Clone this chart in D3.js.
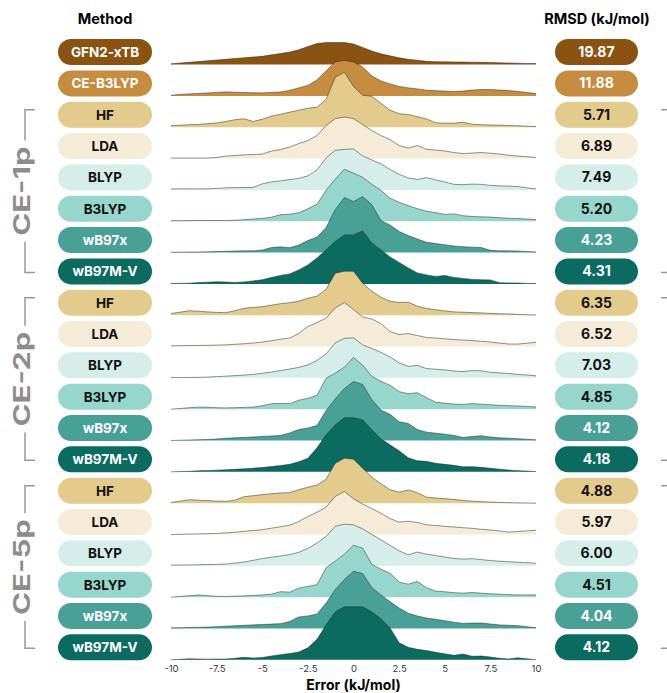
<!DOCTYPE html>
<html>
<head>
<meta charset="utf-8">
<script src="https://cdn.jsdelivr.net/npm/d3@7"></script>
<style>
  body { margin: 0; background: #fff; }
  text { font-family: Inter, "Noto Sans", sans-serif; }
</style>
</head>
<body>
<svg id="chart"></svg>
<script>
// error grid (kJ/mol) the densities are evaluated on
var errorGrid = d3.range(-10, 10.001, 0.5)

var methods = ["GFN2-xTB", "CE-B3LYP",
  "HF", "LDA", "BLYP", "B3LYP", "wB97x", "wB97M-V",
  "HF", "LDA", "BLYP", "B3LYP", "wB97x", "wB97M-V",
  "HF", "LDA", "BLYP", "B3LYP", "wB97x", "wB97M-V"]

var rmsd = [19.87, 11.88,
  5.71, 6.89, 7.49, 5.20, 4.23, 4.31,
  6.35, 6.52, 7.03, 4.85, 4.12, 4.18,
  4.88, 5.97, 6.00, 4.51, 4.04, 4.12]

var groupNames = ["CE-1p", "CE-2p", "CE-5p"]
var groupFirst = [2, 8, 14]
var groupLast = [7, 13, 19]

// error densities (arbitrary units), one array per row
var dGFN2 = [0.7,1.5,2.2,3,3.7,4.5,5.2,6,6.7,7.5,8.2,9.7,11,12.5,14.7,18,21,22,22,22,20.5,17,13.6,10.7,8.7,6.7,5.2,4.3,3.2,2.9,2.7,2.6,2.5,2.4,2.2,2,1.7,1.5,1.3,1.1,1]
var dCEB3LYP = [0.7,1.5,2,2.5,3,3.5,4,3.7,3.3,3.1,3,3.5,3.9,5.5,8,10.5,16,25,34,35.5,34,29,20,15,12,9.5,8,7,5.7,5.2,4.8,4.5,4.8,5.8,6.3,6.3,5.8,5.3,4.5,3.5,2.3]

var d1pHF = [1.7,2,2.5,2.8,3.5,4.3,5.7,7.5,8.5,5.7,8,11,13,15,17,19,20,28,50,55,40.7,32,31,24,17,13.5,12.7,10.5,8.3,4.5,4,4,5,3,2.5,2.2,2,1.7,1.5,1,0.7]
var d1pLDA = [0.5,0.5,0.5,0.5,0.5,1,2.5,3,3.7,4,4.5,7.5,9,11.5,15,18,23,33,40,41.5,40,34,28,23,19,13,10.5,13,9.3,8.5,7.6,6,5,5.5,6,5.3,4.5,3.3,2.5,1.8,1]
var d1pBLYP = [1,1,1,1,1,1.5,2,2.3,2.3,2.5,6,8,9,10.3,11.5,14,20,32,39.5,40.5,41,34,30,26,20.5,15.5,12,10.5,12.3,10,8,5.5,5.2,5.8,5.5,4.5,4,3.8,3.3,2,1]
var d1pB3LYP = [0.5,0.5,0.6,0.7,0.7,0.7,0.7,1,1.5,2.2,2.7,4,6.5,7,8.5,12.5,17,31,42,52,48,44,37,31,23,19,15.5,12.5,10,8.5,6.8,7.3,5.5,4.7,4.4,4.1,3.5,3,2.6,2.2,1.7]
var d1pWB97x = [0.3,0.3,0.5,0.5,0.7,1,1.2,1.5,1.7,1.7,2.5,5,5.7,4.8,7.5,12,15.5,25,43,55,51,56,48,32,27.5,21,17,13.5,10.3,9,7.8,6.6,5.8,5.4,5,2.2,1.7,1.7,1.5,1,0.5]
var d1pWB97MV = [0.3,0.5,0.7,1.3,1.7,2.2,1.8,1.5,2,3,4.2,6.5,8.5,10,14,19,26,34,42.5,49,49,53,41,34,27,21.5,16,11,9,7.5,8.5,6.5,5.5,4.5,4.1,4,1.2,1,0.8,0.5,0.3]

var d2pHF = [1.7,3,4.5,4,3.3,2.8,2.5,4.5,7,7.7,8.5,10,11.5,12.5,14,17,19,26,42,44,44,32,24,18,14,12.7,13,9,6.7,5.5,4.3,3.3,3,2.6,2.3,1.8,1.5,1.2,0.8,0.5,0.2]
var d2pLDA = [0.7,0.8,1,1.1,1.2,1.4,1.7,2.2,2.8,3.5,4.5,5.8,7.3,8.5,13,20,24,28.5,38.5,44,37,29.5,27.5,23,15,12,13,11,9,8.5,7.7,7,6.5,6,5.2,4.5,3.5,2.5,2.5,3.3,4.3]
var d2pBLYP = [0.3,0.3,0.4,0.5,0.8,1.2,1.7,2.2,2.8,3.5,4.5,5.8,7.3,8.8,10.5,13,17.5,24,35,39.5,40,33,29.5,25.5,21,15,11.5,12.5,9.3,8.6,8,6.8,6.3,7.3,7,5.6,5,4.4,3.5,2.8,2]
var d2pB3LYP = [0,0.7,1.5,2,2,1.5,1.3,1.5,1.8,2.1,3.5,5.5,5.8,5.5,9,10.8,14,31,36,42,51.7,44,33,28,24,17.5,15.5,16.5,11.5,7,6,5.1,4.8,5.6,5,4.4,3.9,3.5,3.2,2.8,2.3]
var d2pWB97x = [0,0.3,0.5,0.8,1,1.5,2.3,2.7,3.1,3.6,4,4.6,5.1,7.5,11,12.5,15,30,41.5,52,59,56,41,30.5,26.3,18.8,17,11,8.3,7.4,6.4,5.1,3,4,4.8,3.5,2.7,2.4,1.8,1.3,0.7]
var d2pWB97MV = [0,0.3,0.5,1,1.3,1.7,2,2.5,3,3.7,4.3,5.3,6.3,7.5,10,13.5,24,37,47,54,54,52,42,33,27,21,14,11,10.5,8.5,7.5,6.5,5,5.2,4.5,3.5,2.7,1.8,1.2,0.8,0.3]

var d5pHF = [0.7,2,3.5,3,2.5,2.1,1.8,3,6.5,7.5,8.5,9.5,10.2,10.5,13.5,16,18,24,40,45,44,35,26,19.5,13.5,11,13.3,10.5,6,5.2,4.5,3.7,2.8,2,1.5,1.1,0.8,0.5,0.3,0.2,0]
var d5pLDA = [0,0.2,0.4,0.6,0.8,1.1,1.6,2.3,3.2,4,4.8,6.3,7.8,9.3,13,18,22.3,27.5,38,43,35.7,30.5,26,21.3,16,12.3,13.3,12,9.7,9,8.2,7.5,6.8,6.2,5.2,4.5,3.6,2.4,3,3.6,4.3]
var d5pBLYP = [0.7,0.8,0.9,1.1,1.3,1.5,1.8,2.7,3.8,5.5,7.3,8.6,9.8,11.3,13.5,17.5,22.8,29.5,39.5,41.7,41,37,31.5,26,20.5,15,11,13.8,11.7,10.3,8.8,7.5,6.7,7.2,6.2,5.3,4.6,4.1,3.6,3.1,2.7]
var d5pB3LYP = [0,0.7,1.5,2.2,1.5,0.8,0.7,1,1.3,1.8,2.2,3,5.5,5,9,10.8,12.5,29.5,36,43,52,49,33,28,24,15,13,15.7,9.5,6,5.4,4.5,4,4.7,4,3.4,3,2.5,2.3,2.3,2.3]
var d5pWB97x = [0.7,0.8,1,1.2,1.4,1.8,2.3,2.8,3.2,3.6,4,4.4,4.8,7,11.5,12.6,14.5,25.5,39,49,57.3,55,41,33.5,27,20.5,15.3,12.5,10.5,9.2,7.8,6.3,5.1,5.4,5.5,4.5,3.6,3.2,2.8,1.8,0.7]
var d5pWB97MV = [0,0.5,1,0.8,0.7,0.8,0.8,1.5,2.5,1.8,2.3,3.8,5.2,6.3,7.8,12,20.5,35,48,53,53,53,48,41,32,17,12.5,10.5,9.3,7.5,6,4.5,5.8,3.5,3.8,2.8,1.5,0.9,2,1,0]

var densities = [dGFN2, dCEB3LYP,
  d1pHF, d1pLDA, d1pBLYP, d1pB3LYP, d1pWB97x, d1pWB97MV,
  d2pHF, d2pLDA, d2pBLYP, d2pB3LYP, d2pWB97x, d2pWB97MV,
  d5pHF, d5pLDA, d5pBLYP, d5pB3LYP, d5pWB97x, d5pWB97MV]

var methodOrder = ["GFN2-xTB", "CE-B3LYP", "HF", "LDA", "BLYP", "B3LYP", "wB97x", "wB97M-V"]
var darkLabels = ["GFN2-xTB", "CE-B3LYP", "wB97x", "wB97M-V"]

var dims = {
    width: 667,
    height: 693,
    plotLeft: 171,
    plotRight: 536,
    rowTop: 36.4,
    rowBottom: 663,
    pillH: 26
}

var color = d3.scaleOrdinal()
    .domain(methodOrder)
    .range(["#8b5311", "#c68d40", "#e3cb8d", "#f6ebd6", "#d6eeea", "#97d6cc", "#48a096", "#0b6b60"])

var svg = d3.select("#chart")
    .attr("width", dims.width)
    .attr("height", dims.height)

var xScale = d3.scaleLinear()
    .domain([-10, 10])
    .range([dims.plotLeft, dims.plotRight])

var rowScale = d3.scaleBand()
    .domain(d3.range(methods.length))
    .range([dims.rowTop, dims.rowBottom])

var yScale = d3.scaleLinear()
    .domain([0, 60])
    .range([0, 60])

var rowCenter = i => rowScale(i) + rowScale.bandwidth()/2
var baseline = i => rowCenter(i) + 12.5

var rows = methods.map((m, i) => ({method: m, rmsd: rmsd[i], dens: densities[i], i: i}))

//ridges, top row first so lower rows overlap
var ridges = svg.append("g")
rows.forEach(function(r){
    var b = baseline(r.i)
    var area = d3.area()
        .x((d, j) => xScale(errorGrid[j]))
        .y0(b)
        .y1(d => b - yScale(d))
    var line = d3.line()
        .x((d, j) => xScale(errorGrid[j]))
        .y(d => b - yScale(d))
    ridges.append("path")
        .attr("d", area(r.dens))
        .attr("fill", color(r.method))
    ridges.append("path")
        .attr("d", line(r.dens))
        .attr("fill", "none")
        .attr("stroke", "#2b2b2b")
        .attr("stroke-opacity", 0.65)
        .attr("stroke-width", 0.8)
})

//pills
function pills(xLeft, w, fontSize, textOf){
    var g = svg.append("g")
        .selectAll("g")
        .data(rows)
        .enter()
        .append("g")
        .attr("transform", d => `translate(${xLeft},${rowCenter(d.i)})`)
    g.append("rect")
        .attr("x", 0)
        .attr("y", -dims.pillH/2)
        .attr("width", w)
        .attr("height", dims.pillH)
        .attr("rx", dims.pillH/2)
        .attr("fill", d => color(d.method))
    g.append("text")
        .attr("x", w/2)
        .attr("y", 0)
        .attr("dy", "0.36em")
        .attr("text-anchor", "middle")
        .attr("font-size", fontSize)
        .attr("font-weight", 700)
        .attr("fill", d => darkLabels.includes(d.method) ? "#fff" : "#111")
        .text(textOf)
}
pills(58, 94, 13.5, d => d.method)
pills(555, 83, 14, d => d.rmsd.toFixed(2))

//headers
svg.append("text")
    .attr("x", 105).attr("y", 24)
    .attr("text-anchor", "middle")
    .attr("font-size", 14.5).attr("font-weight", 700)
    .text("Method")
svg.append("text")
    .attr("x", 597).attr("y", 24)
    .attr("text-anchor", "middle")
    .attr("font-size", 14.5).attr("font-weight", 700)
    .text("RMSD (kJ/mol)")

//group brackets
var bracketColor = "#999"
groupNames.forEach(function(name, k){
    var top = rowCenter(groupFirst[k]) - 5
    var bottom = rowCenter(groupLast[k]) + 1
    var mid = (top + bottom)/2
    var label = svg.append("text")
        .attr("transform", `translate(29.5,${mid}) rotate(-90) scale(1.35,1)`)
        .attr("text-anchor", "middle")
        .attr("font-size", 23)
        .attr("font-weight", 700)
        .attr("fill", "#8d8d8d")
        .text(name)
    var half = label.node().getBBox().width*1.35/2 + 6
    var bx = 25
    svg.append("path")
        .attr("d", `M${bx+10},${top}H${bx}V${mid-half}M${bx},${mid+half}V${bottom}H${bx+10}`)
        .attr("fill", "none")
        .attr("stroke", bracketColor)
        .attr("stroke-width", 1.5)
    //right bracket, mostly outside the frame
    svg.append("path")
        .attr("d", `M${dims.width-6},${top}H${dims.width+4}V${bottom}H${dims.width-6}`)
        .attr("fill", "none")
        .attr("stroke", bracketColor)
        .attr("stroke-width", 1.5)
})

//x axis
var xAxisGen = d3.axisBottom(xScale)
    .tickValues([-10, -7.5, -5, -2.5, 0, 2.5, 5, 7.5, 10])
    .tickFormat(d => String(d))
    .tickSize(0)
    .tickPadding(5)
var xAxis = svg.append("g")
    .attr("transform", `translate(0,${baseline(19)})`)
    .call(xAxisGen)
xAxis.select(".domain").remove()
xAxis.selectAll("text")
    .attr("font-size", 9.5)
    .attr("fill", "#333")

svg.append("text")
    .attr("x", (dims.plotLeft + dims.plotRight)/2)
    .attr("y", 690)
    .attr("text-anchor", "middle")
    .attr("font-size", 14)
    .attr("font-weight", 700)
    .text("Error (kJ/mol)")
</script>
</body>
</html>
